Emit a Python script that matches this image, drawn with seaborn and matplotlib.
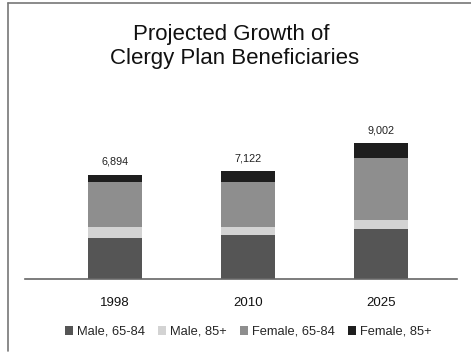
import matplotlib
matplotlib.use("Agg")
import matplotlib.pyplot as plt
from matplotlib.patches import Patch
from matplotlib.lines import Line2D
import seaborn as sns
import pandas as pd
import numpy as np

years = ["1998", "2010", "2025"]
male_65_84 = [2704, 2875, 3322]
male_85 = [720, 531, 594]
female_65_84 = [2946, 2987, 4092]
female_85 = [524, 729, 994]
series_names = ["Male, 65-84", "Male, 85+", "Female, 65-84", "Female, 85+"]
colors = ["#555555", "#d3d3d3", "#8e8e8e", "#1e1e1e"]

sns.set_theme(style="white")
plt.rcParams["font.family"] = ["Liberation Sans", "DejaVu Sans"]

fig = plt.figure(figsize=(4.71, 3.54), dpi=100)
ax = fig.add_axes([25/471, 1 - 279/354, 432/471, 159/354])

series = [male_65_84, male_85, female_65_84, female_85]
cum = np.cumsum(np.array(series), axis=0)
# draw from top (largest cumulative) to bottom
for i in range(len(series) - 1, -1, -1):
    df = pd.DataFrame({"year": years, "value": cum[i]})
    sns.barplot(data=df, x="year", y="value", color=colors[i], saturation=1,
                width=0.406, ax=ax, edgecolor="none", linewidth=0)

totals = cum[-1]
for j, t in enumerate(totals):
    ax.text(j, t + 500, f"{t:,}", ha="center", va="bottom", fontsize=7.8, color="#222222")

ax.set_xlim(-0.677, 2.571)
ax.set_ylim(0, 159 * 66)
ax.set_xlabel("")
ax.set_ylabel("")
ax.set_yticks([])
ax.tick_params(axis="x", length=0, pad=13, labelsize=9.5, colors="#111111")
for s in ["top", "right", "left"]:
    ax.spines[s].set_visible(False)
ax.spines["bottom"].set_color("#666666")
ax.spines["bottom"].set_linewidth(1.2)

fig.text(231/471, 1 - 40/354, "Projected Growth of", ha="center", va="baseline",
         fontsize=16, color="#111111")
fig.text(235/471, 1 - 64/354, "Clergy Plan Beneficiaries", ha="center", va="baseline",
         fontsize=16, color="#111111")

handles = [Patch(facecolor=c, edgecolor="none") for c in colors]
fig.legend(handles, series_names, loc="center", bbox_to_anchor=(248/471, 1 - 332/354),
           ncol=4, frameon=False, fontsize=9.3, handlelength=0.65, handleheight=0.65,
           handletextpad=0.3, columnspacing=1.0)

# partial frame: top and left
fig.add_artist(Line2D([7.5/471, 1.0], [1 - 2.5/354, 1 - 2.5/354], color="#777777", linewidth=1.2))
fig.add_artist(Line2D([7.5/471, 7.5/471], [1 - 2.5/354, 1 - 351/354], color="#777777", linewidth=1.2))

fig.savefig("out.png", dpi=100)
